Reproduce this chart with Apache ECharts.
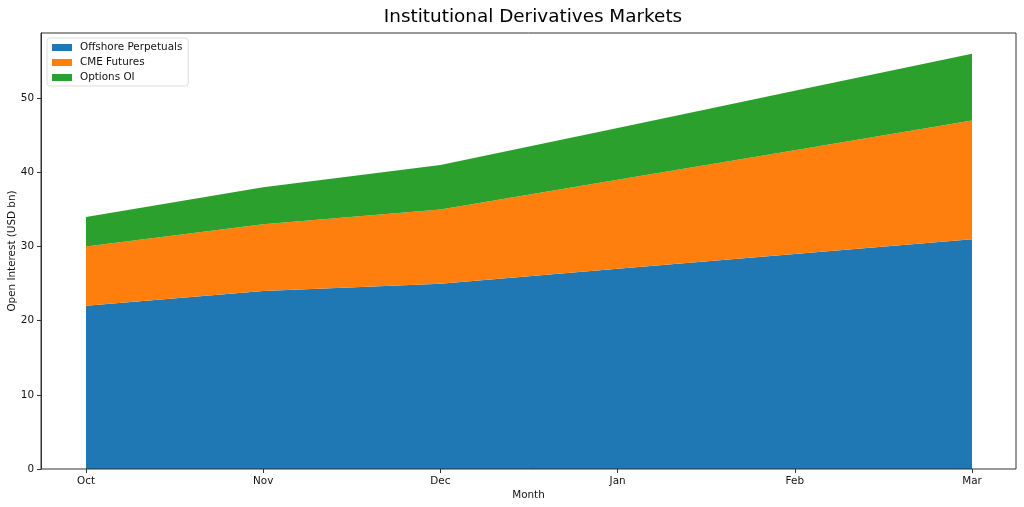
<!DOCTYPE html>
<html><head><meta charset="utf-8">
<script src="https://cdn.jsdelivr.net/npm/echarts@6/dist/echarts.min.js"></script>
<style>html,body{margin:0;padding:0;background:#fff}#c{width:1024px;height:507px}</style>
</head><body><div id="c"></div>
<script>
const months = ['Oct','Nov','Dec','Jan','Feb','Mar'];
const offshore = [22, 24, 25, 27, 29, 31];
const cme = [8, 9, 10, 12, 14, 16];
const options = [4, 5, 6, 7, 8, 9];
const yTicks = [0, 10, 20, 30, 40, 50];

const font = 'DejaVu Sans';
const fs = 10.4;
const tc = '#111';
function mk(name, arr, color){
  return {name, type:'line', stack:'total', data:arr, symbol:'none', xAxisIndex:1, yAxisIndex:1,
    lineStyle:{width:0}, areaStyle:{color, opacity:1}, itemStyle:{color}, z:2};
}
const chart = echarts.init(document.getElementById('c'));
chart.setOption({
  animation:false,
  textStyle:{fontFamily:font},
  title:{text:'Institutional Derivatives Markets', left:528, top:3, textAlign:'center',
    textStyle:{fontFamily:font, fontSize:18.4, fontWeight:'normal', color:'#000'}},
  grid:[
    {left:41, right:8, top:33, bottom:38, show:true, borderColor:'#333', borderWidth:1, backgroundColor:'transparent', z:5, containLabel:false, outerBoundsMode:'none'},
    {left:86, right:52, top:33, bottom:38, show:false, containLabel:false, outerBoundsMode:'none'}
  ],
  legend:{orient:'vertical', left:47, top:38, itemWidth:20, itemHeight:7, itemGap:2,
    icon:'rect', backgroundColor:'#fff', borderColor:'#ddd', borderWidth:1, borderRadius:3,
    padding:[3,6,2,5],
    textStyle:{fontFamily:font, fontSize:fs, color:tc, lineHeight:13, padding:[0,0,0,3]},
    data:['Offshore Perpetuals','CME Futures','Options OI']},
  xAxis:[
    {type:'value', gridIndex:0, min:0, max:1,
      name:'Month', nameLocation:'middle', nameGap:21, nameMoveOverlap:false,
      nameTextStyle:{fontFamily:font, fontSize:fs, color:tc},
      axisLine:{show:false}, splitLine:{show:false}, axisTick:{show:false}, axisLabel:{show:false}},
    {type:'category', gridIndex:1, data:months, boundaryGap:false,
      axisLine:{show:false}, splitLine:{show:false},
      axisTick:{show:true, length:4, alignWithLabel:true, lineStyle:{color:'#333'}},
      axisLabel:{fontFamily:font, fontSize:fs, color:tc, margin:7, interval:0}}
  ],
  yAxis:[
    {type:'value', gridIndex:0, min:0, max:58.8,
      name:'Open Interest (USD bn)', nameLocation:'middle', nameGap:24, nameMoveOverlap:false,
      nameTextStyle:{fontFamily:font, fontSize:fs, color:tc},
      axisLine:{show:true, onZero:false, lineStyle:{color:'#333'}},
      splitLine:{show:false},
      axisTick:{show:true, length:4, customValues:yTicks, lineStyle:{color:'#333'}},
      axisLabel:{customValues:yTicks, fontFamily:font, fontSize:fs, color:tc, margin:7}},
    {type:'value', gridIndex:1, min:0, max:58.8,
      axisLine:{show:false}, splitLine:{show:false}, axisTick:{show:false}, axisLabel:{show:false}}
  ],
  series:[
    mk('Offshore Perpetuals', offshore, '#1f77b4'),
    mk('CME Futures', cme, '#ff7f0e'),
    mk('Options OI', options, '#2ca02c')
  ]
});
</script></body></html>
